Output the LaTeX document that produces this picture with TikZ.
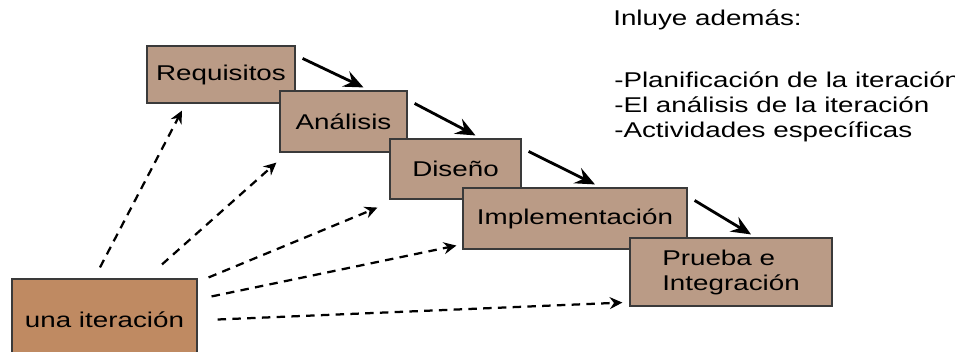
\documentclass[tikz,border=0pt]{standalone}
\usepackage{fontspec}
\setmainfont{Liberation Sans}[FakeStretch=1.3]
\usetikzlibrary{arrows.meta}

\definecolor{boxtan}{RGB}{186,155,134}
\definecolor{boxorange}{RGB}{191,138,98}
\definecolor{boxline}{RGB}{58,58,58}

\begin{document}
\begin{tikzpicture}[x=0.025cm, y=0.025cm,
		phase/.style={draw=boxline, line width=0.8pt, fill=boxtan, inner sep=0pt, font=\fontsize{15.2}{17.8}\selectfont},
		flow/.style={line width=2pt, -{Stealth[length=14pt, width=12pt, inset=5pt]}},
		feed/.style={line width=1.6pt, dash pattern=on 6pt off 4.5pt, -{Stealth[length=9pt, width=8.5pt, inset=3pt]}},
		info/.style={anchor=west, inner sep=0pt, align=left, font=\fontsize{15.2}{17.8}\selectfont}]
			\useasboundingbox (0, 0) rectangle (955, 351);
			\clip (0, 0) rectangle (955, 351);
			\node[phase, minimum width=3.7cm, minimum height=1.425cm] (req) at (221, 276.5) {Requisitos};
			\node[phase, minimum width=3.175cm, minimum height=1.525cm] (ana) at (343.5, 229.5) {Análisis};
			\node[phase, minimum width=3.275cm, minimum height=1.5cm] (dis) at (455.5, 182) {Diseño};
			\node[phase, minimum width=5.6cm, minimum height=1.525cm] (imp) at (575, 132.5) {Implementación};
			\node[phase, minimum width=5.05cm, minimum height=1.7cm, align=left] (pru) at (731, 79) {Prueba e\\Integración};
			\node[phase, fill=boxorange, minimum width=4.625cm, minimum height=2.025cm] (una) at (104.5, 31.5) {una iteración};
			\foreach \a/\b in {req/ana, ana/dis, dis/imp, imp/pru}
				\draw[flow] ([shift={(7, -13)}]\a.north east) -- ([shift={(20, 3)}]\b.north);
			\draw[feed] ([shift={(-4.5, 11)}]una.north) -- ([shift={(-39, -7)}]req.south);
			\draw[feed] ([shift={(57.5, 14)}]una.north) -- ([shift={(-3, -10)}]ana.south west);
			\draw[feed] ([shift={(11, 1)}]una.north east) -- ([shift={(-12, -8)}]dis.south west);
			\draw[feed] ([shift={(14, -18)}]una.north east) -- ([shift={(-6, 4)}]imp.south west);
			\draw[feed] ([shift={(20, 0)}]una.east) -- ([shift={(-7, 4)}]pru.south west);
			\node[info] (infoTitle) at (613, 331) {Inluye además:};
			\node[info] (infoList) at (614, 244) {-Planificación de la iteración\\-El análisis de la iteración\\-Actividades específicas};
		\end{tikzpicture}
\end{document}
